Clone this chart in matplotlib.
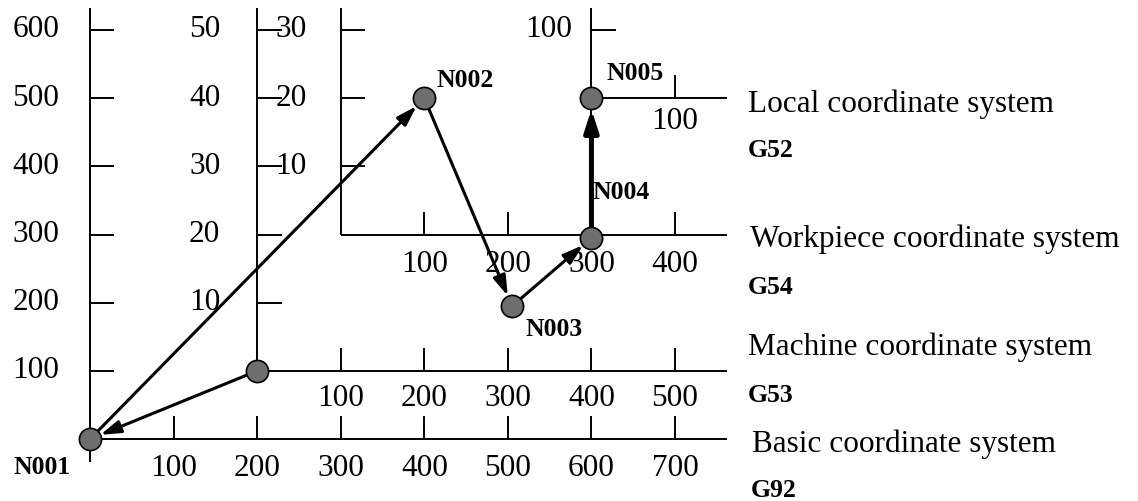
import matplotlib
matplotlib.use("Agg")
import matplotlib.pyplot as plt
from matplotlib.transforms import offset_copy

plt.rcParams['font.family'] = ['Liberation Serif', 'DejaVu Serif']

# Basic coordinate system (all positions below are in basic units)
basic_xticks = [100, 200, 300, 400, 500, 600, 700]
basic_yticks = [100, 200, 300, 400, 500, 600]

# Machine coordinate system
machine_origin = (200, 100)
machine_xticks = [100, 200, 300, 400, 500]
machine_yticks = [100, 200, 300, 400, 500]
machine_ylabels = ['10', '20', '30', '40', '50']

# Workpiece coordinate system
work_origin = (300, 300)
work_xticks = [100, 200, 300, 400]
work_yticks = [100, 200, 300]
work_ylabels = ['10', '20', '30']

# Local coordinate system
local_origin = (600, 500)
local_xticks = [100]
local_yticks = [100]

# Program points
point_names = ['N001', 'N002', 'N003', 'N004', 'N005']
point_x = [0, 400, 505, 600, 600]
point_y = [0, 500, 195, 295, 500]

# where each point label sits relative to its point (pixels)
label_dx = [-77, 12, 13, 1, 15]
label_dy = [-28, 18, -23, 45, 25]

sys_names = ['Local coordinate system', 'Workpiece coordinate system',
             'Machine coordinate system', 'Basic coordinate system']
sys_codes = ['G52', 'G54', 'G53', 'G92']

x_end = 762   # right end of the horizontal axes
y_top = 632   # top end of the vertical axes
tick_up = 32  # tick length in y units
tick_rt = 28  # tick length in x units

fig = plt.figure(figsize=(11.38, 5.01), dpi=100)
ax = fig.add_axes([0, 0, 1, 1])
ax.set_xlim(-107.8, 1254.1)
ax.set_ylim(-90.9, 644.0)
ax.axis('off')

lw_axis = 1.4


def off(dx, dy):
    return offset_copy(ax.transData, fig=fig, x=dx, y=dy, units='dots')


def draw_system(origin, xticks, yticks, ylabels, xlab_dy, ylab_dx, y_from=None):
    ox, oy = origin
    ax.plot([ox, x_end], [oy, oy], color='black', lw=lw_axis, solid_capstyle='butt')
    ax.plot([ox, ox], [oy if y_from is None else y_from, y_top], color='black',
            lw=lw_axis, solid_capstyle='butt')
    for t in xticks:
        ax.plot([ox + t, ox + t], [oy, oy + tick_up], color='black', lw=lw_axis)
        ax.text(ox + t, oy, str(t), ha='center', va='center', fontsize=22.5,
                transform=off(0, -xlab_dy))
    for t, lab in zip(yticks, ylabels):
        ax.plot([ox, ox + tick_rt], [oy + t, oy + t], color='black', lw=lw_axis)
        ax.text(ox, oy + t, lab, ha='right', va='center', fontsize=22.5,
                transform=off(-ylab_dx, 0))


draw_system((0, 0), basic_xticks, basic_yticks, [str(v) for v in basic_yticks],
            29, 31, y_from=-34)
draw_system(machine_origin, machine_xticks, machine_yticks, machine_ylabels, 28, 37)
draw_system(work_origin, work_xticks, work_yticks, work_ylabels, 30, 34)
draw_system(local_origin, local_xticks, local_yticks, ['100'], 23, 19, y_from=300)

# tool path arrows
path_x = [machine_origin[0]] + point_x
path_y = [machine_origin[1]] + point_y
for i in range(len(path_x) - 1):
    thick = (i == len(path_x) - 2)
    ax.annotate('', xy=(path_x[i + 1], path_y[i + 1]), xytext=(path_x[i], path_y[i]),
                arrowprops=dict(arrowstyle='-|>,head_length=1.2,head_width=0.38'
                                if not thick else '-|>,head_length=1.3,head_width=0.42',
                                mutation_scale=10, lw=3.6 if thick else 2.2,
                                color='black', shrinkA=0, shrinkB=8),
                zorder=3)

# circles
ax.plot(path_x, path_y, linestyle='none', marker='o', markersize=16,
        markerfacecolor='#6e6e6e', markeredgecolor='black', markeredgewidth=1.2,
        zorder=4)

for name, x, y, dx, dy in zip(point_names, point_x, point_y, label_dx, label_dy):
    ax.text(x, y, name, ha='left', va='center', fontsize=18.5, fontweight='bold',
            transform=off(dx, dy))

# right-hand captions (pixel positions of baselines)
name_pos = [(748, 112), (750, 247), (748, 355), (752, 452)]
code_pos = [(748, 157), (748, 294), (748, 402), (751, 497)]
for name, code, (nx, ny), (cx, cy) in zip(sys_names, sys_codes, name_pos, code_pos):
    ax.text(nx / 1138, 1 - ny / 501, name, ha='left', va='baseline', fontsize=22.5,
            transform=ax.transAxes)
    ax.text(cx / 1138, 1 - cy / 501, code, ha='left', va='baseline', fontsize=18.5,
            fontweight='bold', transform=ax.transAxes)

fig.savefig('out.png', dpi=100)
